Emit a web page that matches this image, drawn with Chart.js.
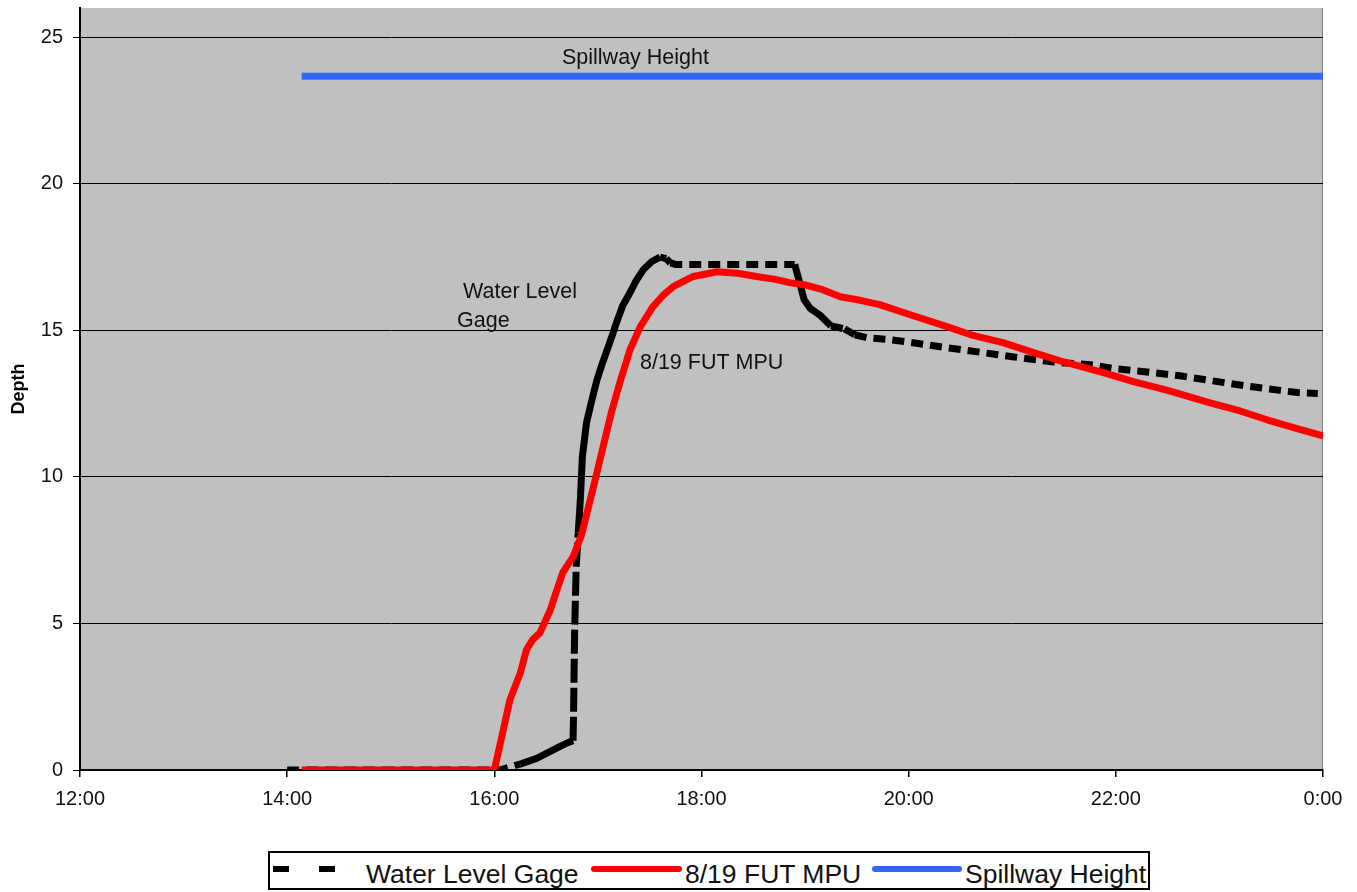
<!DOCTYPE html>
<html>
<head>
<meta charset="utf-8">
<script src="https://cdn.jsdelivr.net/npm/chart.js@4/dist/chart.umd.min.js"></script>
<style>
  html, body { margin: 0; padding: 0; background: #fff; }
  #wrap { position: relative; width: 1357px; height: 892px; overflow: hidden; }
  #chart { position: absolute; left: 0; top: 0; }
  #legend {
    position: absolute; left: 268px; top: 851px; width: 882px; height: 39px;
    box-sizing: border-box; border: 2px solid #000; background: #fff;
    font-family: "Liberation Sans", Arial, sans-serif; font-size: 26.5px; color: #111;
  }
  #legend .sw { position: absolute; height: 6px; top: 13px; }
  #legend .txt { position: absolute; top: 6px; line-height: 30px; white-space: nowrap; }
</style>
</head>
<body>
<div id="wrap">
  <canvas id="chart" width="1357" height="892"></canvas>
  <div id="legend">
    <div class="sw" style="left:3px;width:16px;background:#000"></div>
    <div class="sw" style="left:49px;width:16px;background:#000"></div>
    <div class="txt" style="left:96px">Water Level Gage</div>
    <div class="sw" style="left:321px;width:91px;background:#ff0000;border-radius:3px"></div>
    <div class="txt" style="left:415px">8/19 FUT MPU</div>
    <div class="sw" style="left:602px;width:90px;background:#3366ff;border-radius:3px"></div>
    <div class="txt" style="left:695px">Spillway Height</div>
  </div>
</div>
<script>
// Time is in decimal hours (12 = 12:00, 24 = 0:00 next day); depth in feet.
const gageTimes = [14.0, 16.05, 16.1, 16.25, 16.41, 16.55, 16.63, 16.72, 16.76, 16.765, 16.775, 16.79,
  16.81, 16.83, 16.85, 16.89, 16.94, 16.99, 17.04, 17.09, 17.14, 17.18, 17.24, 17.31, 17.37, 17.44,
  17.52, 17.6, 17.66, 17.7, 17.75, 18.0, 18.5, 18.9, 18.95, 18.99, 19.05, 19.15, 19.25, 19.38, 19.48,
  19.6, 19.8, 20.0, 20.37, 20.7, 21.0, 21.4, 21.78, 21.97, 22.3, 22.62, 22.95, 23.27, 23.55, 23.75, 23.95];
const gageDepth = [0, 0, 0.05, 0.2, 0.4, 0.65, 0.8, 0.95, 1.0, 2.0, 4.7, 6.9,
  8.1, 9.2, 10.7, 11.85, 12.6, 13.3, 13.85, 14.34, 14.85, 15.27, 15.85, 16.29, 16.7, 17.08,
  17.35, 17.5, 17.45, 17.3, 17.25, 17.25, 17.25, 17.25, 16.6, 16.05, 15.75, 15.5, 15.15, 15.05, 14.85,
  14.75, 14.69, 14.6, 14.41, 14.25, 14.1, 13.92, 13.82, 13.7, 13.58, 13.45, 13.27, 13.1, 12.97, 12.88, 12.85];

const mpuTimes = [14.14, 16.0, 16.08, 16.15, 16.25, 16.31, 16.37, 16.44, 16.54, 16.6, 16.66, 16.76,
  16.84, 16.95, 17.05, 17.13, 17.21, 17.31, 17.41, 17.53, 17.63, 17.73, 17.92, 18.15, 18.35, 18.53,
  18.7, 18.85, 19.0, 19.17, 19.34, 19.5, 19.72, 20.0, 20.37, 20.6, 20.91, 21.2, 21.49, 21.88, 22.17,
  22.5, 22.91, 23.2, 23.46, 23.75, 24.0];
const mpuDepth = [0, 0, 1.26, 2.39, 3.3, 4.1, 4.45, 4.68, 5.46, 6.1, 6.73, 7.27,
  8.0, 9.56, 11.03, 12.2, 13.2, 14.34, 15.13, 15.8, 16.2, 16.5, 16.84, 17.0, 16.95, 16.84,
  16.75, 16.63, 16.55, 16.39, 16.15, 16.05, 15.88, 15.55, 15.13, 14.85, 14.58, 14.25, 13.93, 13.56, 13.25,
  12.95, 12.53, 12.25, 11.95, 11.65, 11.4];

const spillwayTimes = [14.14, 24.0];
const spillwayDepth = [23.67, 23.67];

const xTickValues = [12, 14, 16, 18, 20, 22, 24];
const xTickLabels = ['12:00', '14:00', '16:00', '18:00', '20:00', '22:00', '0:00'];
const yTickValues = [0, 5, 10, 15, 20, 25];

const toPoints = (xs, ys) => xs.map((x, i) => ({ x, y: ys[i] }));

const FONT = '"Liberation Sans", Arial, sans-serif';

// Grey plot background with a thin darker right edge
const plotBackground = {
  id: 'plotBackground',
  beforeDraw(chart) {
    const { ctx, chartArea: a } = chart;
    ctx.save();
    ctx.fillStyle = '#c0c0c0';
    ctx.fillRect(a.left, a.top, a.right - a.left, a.bottom - a.top);
    ctx.strokeStyle = '#808080';
    ctx.lineWidth = 1;
    ctx.beginPath();
    ctx.moveTo(a.right - 0.5, a.top);
    ctx.lineTo(a.right - 0.5, a.bottom);
    ctx.stroke();
    ctx.restore();
  }
};

// Series names written next to their curves
const curveLabels = {
  id: 'curveLabels',
  afterDatasetsDraw(chart, args, opts) {
    const { ctx, scales: { x, y } } = chart;
    ctx.save();
    ctx.font = opts.font;
    ctx.fillStyle = '#111';
    ctx.textAlign = 'left';
    ctx.textBaseline = 'middle';
    for (const l of opts.items) {
      ctx.fillText(l.text, x.getPixelForValue(l.x), y.getPixelForValue(l.y));
    }
    ctx.restore();
  }
};

new Chart(document.getElementById('chart'), {
  type: 'line',
  data: {
    datasets: [
      {
        label: '8/19 FUT MPU',
        data: toPoints(mpuTimes, mpuDepth),
        borderColor: '#ff0000',
        borderWidth: 7,
        pointRadius: 0,
        tension: 0,
        borderJoinStyle: 'round'
      },
      {
        label: 'Water Level Gage',
        data: toPoints(gageTimes, gageDepth),
        borderColor: '#000000',
        borderWidth: 7,
        borderDash: [12, 7],
        borderCapStyle: 'butt',
        pointRadius: 0,
        tension: 0,
        segment: {
          borderDash: c => {
            const dx = Math.abs(c.p1.x - c.p0.x);
            const dy = Math.abs(c.p1.y - c.p0.y);
            if (dy > dx * 3 && c.p0.parsed.y < 8) return [24, 5];
            if (dy > dx * 0.35) return [];
            return undefined;
          }
        }
      },
      {
        label: 'Spillway Height',
        data: toPoints(spillwayTimes, spillwayDepth),
        borderColor: '#3366ff',
        borderWidth: 7,
        pointRadius: 0,
        tension: 0
      }
    ]
  },
  options: {
    responsive: false,
    animation: false,
    events: [],
    layout: { padding: { top: 8, right: 34, left: 0, bottom: 0 } },
    plugins: {
      legend: { display: false },
      tooltip: { enabled: false },
      curveLabels: {
        font: '21.5px ' + FONT,
        items: [
          { text: 'Spillway Height', x: 16.653, y: 24.28 },
          { text: 'Water Level', x: 15.698, y: 16.29 },
          { text: 'Gage', x: 15.64, y: 15.33 },
          { text: '8/19 FUT MPU', x: 17.406, y: 13.9 }
        ]
      }
    },
    scales: {
      x: {
        type: 'linear',
        min: 12,
        max: 24,
        afterBuildTicks: s => { s.ticks = xTickValues.map(v => ({ value: v })); },
        afterFit: s => { s.height = 122; },
        grid: { drawOnChartArea: false, drawTicks: true, tickLength: 7, color: '#000', lineWidth: 1.5 },
        border: { display: true, color: '#000', width: 2 },
        ticks: {
          autoSkip: false,
          maxRotation: 0,
          padding: 10,
          color: '#111',
          font: { family: FONT, size: 20 },
          callback: (v) => xTickLabels[xTickValues.indexOf(v)]
        }
      },
      y: {
        type: 'linear',
        min: 0,
        max: 26,
        afterBuildTicks: s => { s.ticks = yTickValues.map(v => ({ value: v })); },
        afterFit: s => { s.width = 80; s.paddingTop = 0; s.paddingBottom = 0; },
        grid: { drawTicks: true, tickLength: 7, color: '#000', lineWidth: 1 },
        border: { display: true, color: '#000', width: 2 },
        title: {
          display: true,
          text: 'Depth',
          color: '#000',
          padding: { top: 8, bottom: 0 },
          font: { family: FONT, size: 18, weight: 'bold' }
        },
        ticks: {
          padding: 10,
          color: '#111',
          font: { family: FONT, size: 20 }
        }
      }
    }
  },
  plugins: [plotBackground, curveLabels]
});
</script>
</body>
</html>
